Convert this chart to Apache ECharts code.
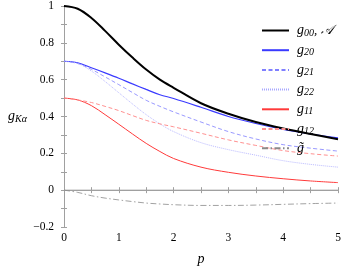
<!DOCTYPE html>
<html><head><meta charset="utf-8">
<script src="https://cdn.jsdelivr.net/npm/echarts@6/dist/echarts.min.js"></script>
<style>html,body{margin:0;padding:0;background:#fff}#c{width:345px;height:271px}</style>
</head><body><div id="c"></div>
<script>
const pVals = [0, 0.25, 0.5, 0.75, 1, 1.25, 1.5, 1.75, 2, 2.5, 3, 3.5, 4, 4.5, 5];
const g00 = [1.0, 0.985, 0.935, 0.865, 0.79, 0.72, 0.655, 0.60, 0.556, 0.472, 0.415, 0.37, 0.335, 0.305, 0.277];
const g20 = [0.70, 0.692, 0.665, 0.637, 0.608, 0.577, 0.547, 0.518, 0.498, 0.45, 0.40, 0.362, 0.33, 0.305, 0.284];
const g21 = [0.70, 0.688, 0.656, 0.615, 0.573, 0.53, 0.488, 0.455, 0.425, 0.37, 0.318, 0.278, 0.247, 0.228, 0.212];
const g22 = [0.70, 0.688, 0.647, 0.59, 0.529, 0.468, 0.41, 0.36, 0.318, 0.258, 0.22, 0.19, 0.16, 0.14, 0.125];
const g11 = [0.50, 0.49, 0.459, 0.41, 0.358, 0.305, 0.254, 0.21, 0.172, 0.125, 0.097, 0.077, 0.062, 0.05, 0.041];
const g12 = [0.50, 0.49, 0.476, 0.455, 0.432, 0.405, 0.379, 0.36, 0.344, 0.309, 0.273, 0.243, 0.215, 0.198, 0.185];
const gT  = [0, -0.012, -0.03, -0.043, -0.053, -0.062, -0.07, -0.075, -0.079, -0.083, -0.083, -0.081, -0.077, -0.073, -0.07];
const xTicks = [0, 1, 2, 3, 4, 5];
const yTicks = [-0.2, 0, 0.2, 0.4, 0.6, 0.8, 1];

const pairs = arr => pVals.map((p, i) => [p, arr[i]]);
const serif = 'Liberation Serif';
const rich = {
  i: {fontFamily: serif, fontStyle: 'italic', fontSize: 14, color: '#000', lineHeight: 14},
  s: {fontFamily: serif, fontStyle: 'italic', fontSize: 10, color: '#000', padding: [5, 0, 0, 0], lineHeight: 9},
  c: {fontFamily: serif, fontStyle: 'italic', fontSize: 13, color: '#000', lineHeight: 14},
  l: {fontFamily: serif, fontStyle: 'italic', fontSize: 14, color: '#000', lineHeight: 14, padding: [0, 0, 0, 3]}
};
const names = ['g00', 'g20', 'g21', 'g22', 'g11', 'g12', 'gt'];
const labels = {
  g00: '{l|g}{s|00}{c|, 𝒜}', g20: '{l|g}{s|20}', g21: '{l|g}{s|21}', g22: '{l|g}{s|22}',
  g11: '{l|g}{s|11}', g12: '{l|g}{s|12}', gt: '{l|g̃}'
};
const styles = {
  g00: {color: '#000000', width: 2, type: 'solid'},
  g20: {color: '#3a3aff', width: 1.2, type: 'solid'},
  g21: {color: '#7f7fff', width: 0.8, type: [4, 2.5]},
  g22: {color: '#a8a8ff', width: 0.8, type: [1, 1]},
  g11: {color: '#ff3a3a', width: 1, type: 'solid'},
  g12: {color: '#ff9090', width: 1, type: [4, 2.5]},
  gt:  {color: '#8a8a8a', width: 0.8, type: [6, 2.5, 1.5, 2.5]}
};
const dataMap = {g00, g20, g21, g22, g11, g12, gt: gT};
const series = names.map(n => ({
  name: n, type: 'line', smooth: 0.35, symbol: 'none', data: pairs(dataMap[n]),
  lineStyle: styles[n], itemStyle: {color: styles[n].color}, z: n === 'g00' ? 3 : 2
}));
series.push({
  type: 'line', data: [[0, 0], [5, 0]], symbol: 'none', silent: true,
  lineStyle: {color: '#a0a0a0', width: 1}, z: 1
});
const axisCommon = {
  axisLine: {show: true, lineStyle: {color: '#a0a0a0', width: 1}},
  axisTick: {show: true, inside: true, length: 3, lineStyle: {color: '#a0a0a0'}},
  minorTick: {show: true, splitNumber: 2, length: 3, lineStyle: {color: '#a0a0a0'}},
  splitLine: {show: false}
};
const chart = echarts.init(document.getElementById('c'), null, {renderer: 'canvas'});
chart.setOption({
  animation: false,
  textStyle: {fontFamily: serif},
  grid: {left: 64, right: 7, top: 6, bottom: 38},
  xAxis: [
    Object.assign({type: 'value', min: xTicks[0], max: xTicks[xTicks.length - 1], interval: 1, position: 'bottom',
      name: 'p', nameLocation: 'middle', nameGap: 25,
      nameTextStyle: {fontFamily: serif, fontStyle: 'italic', fontSize: 14, color: '#000'},
      axisLabel: {fontFamily: serif, fontSize: 11.5, color: '#000', margin: 5}}, axisCommon),
    Object.assign({type: 'value', min: 0, max: 5, interval: 1, position: 'top', axisLabel: {show: false}}, axisCommon)
  ],
  yAxis: [
    Object.assign({type: 'value', min: yTicks[0], max: yTicks[yTicks.length - 1], interval: 0.2, position: 'left',
      name: '{i|g}{s|Kα}', nameLocation: 'middle', nameRotate: 0, nameGap: 37,
      nameTextStyle: {rich: rich},
      axisLabel: {fontFamily: serif, fontSize: 11.5, color: '#000', margin: 10,
        formatter: v => (Math.abs(v) < 1e-9 ? '0' : (v < 0 ? '\u2212' + String(Math.abs(+v.toFixed(1))) : String(+v.toFixed(1))))}}, axisCommon),
    Object.assign({type: 'value', min: -0.2, max: 1, interval: 0.2, position: 'right', axisLabel: {show: false}}, axisCommon)
  ],
  legend: {
    data: names, orient: 'vertical', left: 256, top: 18, itemWidth: 27, itemHeight: 14, itemGap: 4.7,
    formatter: n => labels[n], textStyle: {rich: rich, fontFamily: serif},
    itemStyle: {opacity: 0, borderWidth: 0}
  },
  series: series
});
</script></body></html>
